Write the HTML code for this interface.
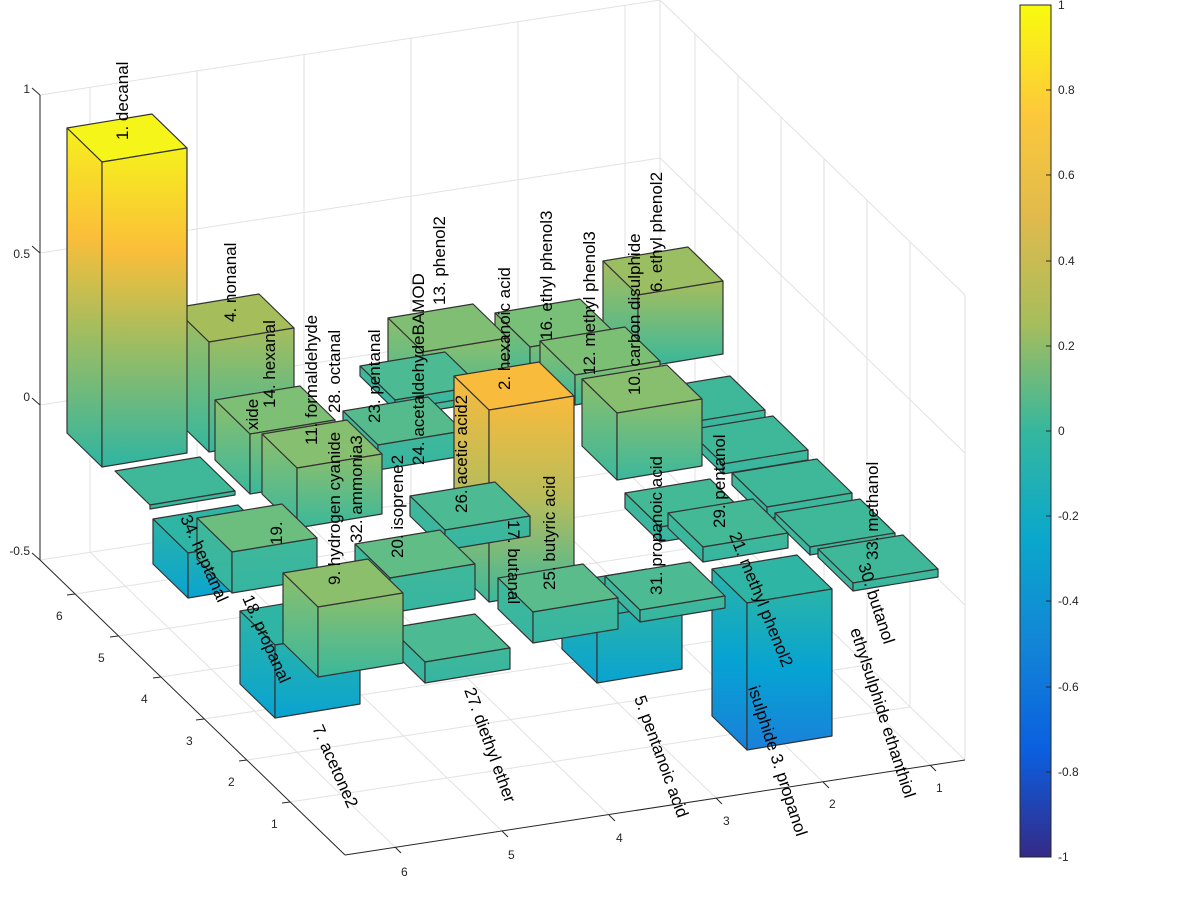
<!DOCTYPE html>
<html><head><meta charset="utf-8"><style>
html,body{margin:0;padding:0;background:#fff;}
svg{display:block;font-family:"Liberation Sans",sans-serif;}
.g{stroke:#e2e2e2;stroke-width:1;fill:none}
.ax{stroke:#262626;stroke-width:1;fill:none}
.b polygon{stroke:#333;stroke-width:1.2;stroke-linejoin:round}
.t{font-size:12px;fill:#262626}
.l{font-size:17px;fill:#000}
</style></head><body>
<svg width="1200" height="910" viewBox="0 0 1200 910">
<defs>
<linearGradient id="g1" x1="0" y1="0" x2="0" y2="1"><stop offset="0" stop-color="#f6f01d"/><stop offset="0.32" stop-color="#fbbe3a"/><stop offset="0.6" stop-color="#a2bd5f"/><stop offset="1" stop-color="#2fb5a2"/></linearGradient>
<linearGradient id="g2" x1="0" y1="0" x2="0" y2="1"><stop offset="0" stop-color="#f9bb3c"/><stop offset="0.5" stop-color="#b8bc5a"/><stop offset="1" stop-color="#3cb89b"/></linearGradient>
<linearGradient id="g4" x1="0" y1="0" x2="0" y2="1"><stop offset="0" stop-color="#a6bd5c"/><stop offset="1" stop-color="#35b89e"/></linearGradient>
<linearGradient id="gc" x1="0" y1="0" x2="0" y2="1"><stop offset="0" stop-color="#8cbf6c"/><stop offset="1" stop-color="#3ab89c"/></linearGradient>
<linearGradient id="gf" x1="0" y1="0" x2="0" y2="1"><stop offset="0" stop-color="#40b89a"/><stop offset="1" stop-color="#35b6a1"/></linearGradient>
<linearGradient id="gn" x1="0" y1="0" x2="0" y2="1"><stop offset="0" stop-color="#2cb4a6"/><stop offset="1" stop-color="#08a3d2"/></linearGradient>
<linearGradient id="g3" x1="0" y1="0" x2="0" y2="1"><stop offset="0" stop-color="#2ab4a8"/><stop offset="0.5" stop-color="#06a3d3"/><stop offset="1" stop-color="#1a80da"/></linearGradient>
<linearGradient id="cb" x1="0" y1="0" x2="0" y2="1">
<stop offset="0" stop-color="#f9fb0e"/><stop offset="0.125" stop-color="#fdc93a"/><stop offset="0.25" stop-color="#e0ba4c"/><stop offset="0.375" stop-color="#a6bd5c"/><stop offset="0.5" stop-color="#35b79e"/><stop offset="0.625" stop-color="#0aa8cc"/><stop offset="0.75" stop-color="#1285d6"/><stop offset="0.875" stop-color="#0b5fe0"/><stop offset="1" stop-color="#352a87"/>
</linearGradient>
</defs>

<!-- grid: back wall -->
<g class="g">
<line x1="40" y1="95" x2="660" y2="0"/><line x1="40" y1="253" x2="660" y2="158"/><line x1="40" y1="405" x2="660" y2="310"/><line x1="40" y1="560" x2="660" y2="465"/>
<line x1="660" y1="0" x2="965" y2="295"/><line x1="660" y1="158" x2="965" y2="453"/><line x1="660" y1="310" x2="965" y2="605"/>
<line x1="660" y1="0" x2="660" y2="465"/><line x1="965" y1="295" x2="965" y2="760"/>
<line x1="90" y1="552" x2="90" y2="87"/><line x1="197" y1="536" x2="197" y2="71"/><line x1="304" y1="520" x2="304" y2="55"/><line x1="411" y1="503" x2="411" y2="38"/><line x1="518" y1="487" x2="518" y2="22"/><line x1="625" y1="470" x2="625" y2="5"/>
<line x1="90" y1="552" x2="395" y2="847"/><line x1="197" y1="536" x2="502" y2="831"/><line x1="304" y1="520" x2="609" y2="815"/><line x1="411" y1="503" x2="716" y2="798"/><line x1="518" y1="487" x2="823" y2="782"/><line x1="625" y1="470" x2="930" y2="765"/>
<line x1="695" y1="499" x2="695" y2="34"/><line x1="738" y1="541" x2="738" y2="76"/><line x1="781" y1="582" x2="781" y2="117"/><line x1="824" y1="624" x2="824" y2="159"/><line x1="867" y1="665" x2="867" y2="200"/><line x1="910" y1="707" x2="910" y2="242"/>
<line x1="75" y1="594" x2="695" y2="499"/><line x1="118" y1="636" x2="738" y2="541"/><line x1="161" y1="677" x2="781" y2="582"/><line x1="204" y1="719" x2="824" y2="624"/><line x1="247" y1="760" x2="867" y2="665"/><line x1="290" y1="802" x2="910" y2="707"/>
<line x1="660" y1="465" x2="965" y2="760"/>
</g>
<g class="ax">
<line x1="40" y1="95" x2="40" y2="560"/>
<line x1="40" y1="560" x2="345" y2="855"/>
<line x1="345" y1="855" x2="965" y2="760"/>
<line x1="40" y1="95" x2="32" y2="88"/><line x1="40" y1="253" x2="32" y2="246"/><line x1="40" y1="405" x2="32" y2="398"/><line x1="40" y1="560" x2="32" y2="553"/>
<line x1="395" y1="847" x2="401" y2="853"/><line x1="502" y1="831" x2="508" y2="837"/><line x1="609" y1="815" x2="615" y2="821"/><line x1="716" y1="798" x2="722" y2="804"/><line x1="823" y1="782" x2="829" y2="788"/><line x1="930" y1="765" x2="936" y2="771"/>
<line x1="75" y1="594" x2="67" y2="595"/><line x1="118" y1="636" x2="110" y2="637"/><line x1="161" y1="677" x2="153" y2="678"/><line x1="204" y1="719" x2="196" y2="720"/><line x1="247" y1="760" x2="239" y2="761"/><line x1="290" y1="802" x2="282" y2="803"/>
</g>
<g class="t">
<text x="30" y="93" text-anchor="end">1</text><text x="30" y="258" text-anchor="end">0.5</text><text x="30" y="401" text-anchor="end">0</text><text x="30" y="555" text-anchor="end">-0.5</text>
<text x="401" y="876">6</text><text x="508" y="859">5</text><text x="616" y="842">4</text><text x="723" y="825">3</text><text x="829" y="808">2</text><text x="936" y="792">1</text>
<text x="56" y="620">6</text><text x="98" y="662">5</text><text x="141" y="703">4</text><text x="186" y="745">3</text><text x="228" y="786">2</text><text x="271" y="828">1</text>
</g>

<!-- bars -->
<g class="b">
<polygon fill="#3fb899" points="645,390 730,376 765,410 680,424"/><polygon fill="url(#gf)" points="645,390 680,424 680,432 645,398"/><polygon fill="url(#gf)" points="680,424 765,410 765,418 680,432"/>
<polygon fill="#9cbe63" points="603,261 688,247 723,281 638,295"/><polygon fill="url(#g4)" points="603,261 638,295 638,368 603,334"/><polygon fill="url(#g4)" points="638,295 723,281 723,354 638,368"/>
<polygon fill="#78bf77" points="495,313 580,299 615,333 530,347"/><polygon fill="url(#gc)" points="495,313 530,347 530,387 495,353"/><polygon fill="url(#gc)" points="530,347 615,333 615,373 530,387"/>
<polygon fill="#80bf73" points="388,318 473,304 508,338 423,352"/><polygon fill="url(#gc)" points="388,318 423,352 423,412 388,378"/><polygon fill="url(#gc)" points="423,352 508,338 508,398 423,412"/>
<polygon fill="#a6bd5c" points="174,308 259,294 294,328 209,342"/><polygon fill="url(#g4)" points="174,308 209,342 209,452 174,418"/><polygon fill="url(#g4)" points="209,342 294,328 294,438 209,452"/>
<polygon fill="#f6f51a" points="67,128 152,114 187,148 102,162"/><polygon fill="url(#g1)" points="67,128 102,162 102,467 67,433"/><polygon fill="url(#g1)" points="102,162 187,148 187,453 102,467"/>
<polygon fill="#3fb899" points="688,430 773,416 808,450 723,464"/><polygon fill="url(#gf)" points="688,430 723,464 723,474 688,440"/><polygon fill="url(#gf)" points="723,464 808,450 808,460 723,474"/>
<polygon fill="#7bbf75" points="540,341 625,327 660,361 575,375"/><polygon fill="url(#gc)" points="540,341 575,375 575,405 540,371"/><polygon fill="url(#gc)" points="575,375 660,361 660,391 575,405"/>
<polygon fill="#88bf6e" points="582,379 667,365 702,399 617,413"/><polygon fill="url(#gc)" points="582,379 617,413 617,480 582,446"/><polygon fill="url(#gc)" points="617,413 702,399 702,466 617,480"/>
<polygon fill="#4cba92" points="360,366 445,352 480,386 395,400"/><polygon fill="url(#gf)" points="360,366 395,400 395,410 360,376"/><polygon fill="url(#gf)" points="395,400 480,386 480,396 395,410"/>
<polygon fill="#7cbf75" points="215,400 300,386 335,420 250,434"/><polygon fill="url(#gc)" points="215,400 250,434 250,494 215,460"/><polygon fill="url(#gc)" points="250,434 335,420 335,480 250,494"/>
<polygon fill="#3fb899" points="115,471 200,457 235,491 150,505"/><polygon fill="url(#gf)" points="150,505 235,491 235,495 150,509"/>
<polygon fill="#3fb899" points="732,473 817,459 852,493 767,507"/><polygon fill="url(#gf)" points="732,473 767,507 767,519 732,485"/><polygon fill="url(#gf)" points="767,507 852,493 852,505 767,519"/>
<polygon fill="#3fb899" points="775,513 860,499 895,533 810,547"/><polygon fill="url(#gf)" points="775,513 810,547 810,555 775,521"/><polygon fill="url(#gf)" points="810,547 895,533 895,541 810,555"/>
<polygon fill="#3fb899" points="818,549 903,535 938,569 853,583"/><polygon fill="url(#gf)" points="818,549 853,583 853,591 818,557"/><polygon fill="url(#gf)" points="853,583 938,569 938,577 853,591"/>
<polygon fill="#44b996" points="625,493 710,479 745,513 660,527"/><polygon fill="url(#gf)" points="625,493 660,527 660,542 625,508"/><polygon fill="url(#gf)" points="660,527 745,513 745,528 660,542"/>
<polygon fill="#44b996" points="668,513 753,499 788,533 703,547"/><polygon fill="url(#gf)" points="668,513 703,547 703,562 668,528"/><polygon fill="url(#gf)" points="703,547 788,533 788,548 703,562"/>
<polygon fill="#55bb8d" points="343,411 428,397 463,431 378,445"/><polygon fill="url(#gf)" points="343,411 378,445 378,470 343,436"/><polygon fill="url(#gf)" points="378,445 463,431 463,456 378,470"/>
<polygon fill="#f9bb3c" points="454,376 539,362 574,396 489,410"/><polygon fill="url(#g2)" points="454,376 489,410 489,602 454,568"/><polygon fill="url(#g2)" points="489,410 574,396 574,588 489,602"/>
<polygon fill="#86bf6f" points="262,434 347,420 382,454 297,468"/><polygon fill="url(#gc)" points="262,434 297,468 297,528 262,494"/><polygon fill="url(#gc)" points="297,468 382,454 382,514 297,528"/>
<polygon fill="#4cba92" points="410,496 495,482 530,516 445,530"/><polygon fill="url(#gf)" points="410,496 445,530 445,550 410,516"/><polygon fill="url(#gf)" points="445,530 530,516 530,536 445,550"/>
<polygon fill="#2fb5a4" points="712,569 797,555 832,589 747,603"/><polygon fill="url(#g3)" points="712,569 747,603 747,750 712,716"/><polygon fill="url(#g3)" points="747,603 832,589 832,736 747,750"/>
<polygon fill="#2fb5a4" points="562,583 647,569 682,603 597,617"/><polygon fill="url(#gn)" points="562,583 597,617 597,683 562,649"/><polygon fill="url(#gn)" points="597,617 682,603 682,669 597,683"/>
<polygon fill="#4cba92" points="605,576 690,562 725,596 640,610"/><polygon fill="url(#gf)" points="605,576 640,610 640,622 605,588"/><polygon fill="url(#gf)" points="640,610 725,596 725,608 640,622"/>
<polygon fill="#5abc8a" points="498,578 583,564 618,598 533,612"/><polygon fill="url(#gf)" points="498,578 533,612 533,643 498,609"/><polygon fill="url(#gf)" points="533,612 618,598 618,629 533,643"/>
<polygon fill="#2fb5a4" points="153,519 238,505 273,539 188,553"/><polygon fill="url(#gn)" points="153,519 188,553 188,598 153,564"/><polygon fill="url(#gn)" points="188,553 273,539 273,584 188,598"/>
<polygon fill="#6cbe7f" points="197,518 282,504 317,538 232,552"/><polygon fill="url(#gf)" points="197,518 232,552 232,593 197,559"/><polygon fill="url(#gf)" points="232,552 317,538 317,579 232,593"/>
<polygon fill="#60bd86" points="355,544 440,530 475,564 390,578"/><polygon fill="url(#gf)" points="355,544 390,578 390,613 355,579"/><polygon fill="url(#gf)" points="390,578 475,564 475,599 390,613"/>
<polygon fill="#4cba92" points="390,628 475,614 510,648 425,662"/><polygon fill="url(#gf)" points="390,628 425,662 425,683 390,649"/><polygon fill="url(#gf)" points="425,662 510,648 510,669 425,683"/>
<polygon fill="#2fb5a4" points="240,611 325,597 360,631 275,645"/><polygon fill="url(#gn)" points="240,611 275,645 275,718 240,684"/><polygon fill="url(#gn)" points="275,645 360,631 360,704 275,718"/>
<polygon fill="#8cbf6c" points="283,573 368,559 403,593 318,607"/><polygon fill="url(#gc)" points="283,573 318,607 318,677 283,643"/><polygon fill="url(#gc)" points="318,607 403,593 403,663 318,677"/>
</g>

<!-- bar labels (vertical) -->
<g class="l">
<text transform="translate(128,140) rotate(-90)">1. decanal</text>
<text transform="translate(236,322) rotate(-90)">4. nonanal</text>
<text transform="translate(275,408) rotate(-90)">14. hexanal</text>
<text transform="translate(258,430) rotate(-90)">xide</text>
<text transform="translate(282,545) rotate(-90)">19.</text>
<text transform="translate(317,445) rotate(-90)">11. formaldehyde</text>
<text transform="translate(340,413) rotate(-90)">28. octanal</text>
<text transform="translate(340,585) rotate(-90)">9. hydrogen cyanide</text>
<text transform="translate(362,543) rotate(-90)">32. ammonia3</text>
<text transform="translate(380,423) rotate(-90)">23. pentanal</text>
<text transform="translate(403,558) rotate(-90)">20. isoprene2</text>
<text transform="translate(424,465) rotate(-90)">24. acetaldehydeBAMOD</text>
<text transform="translate(445,305) rotate(-90)">13. phenol2</text>
<text transform="translate(467,513) rotate(-90)">26. acetic acid2</text>
<text transform="translate(510,390) rotate(-90)">2. hexanoic acid</text>
<text transform="translate(555,590) rotate(-90)">25. butyric acid</text>
<text transform="translate(552,340) rotate(-90)">16. ethyl phenol3</text>
<text transform="translate(595,375) rotate(-90)">12. methyl phenol3</text>
<text transform="translate(640,395) rotate(-90)">10. carbon disulphide</text>
<text transform="translate(662,292) rotate(-90)">6. ethyl phenol2</text>
<text transform="translate(662,595) rotate(-90)">31. propanoic acid</text>
<text transform="translate(725,528) rotate(-90)">29. pentanol</text>
<text transform="translate(878,560) rotate(-90)">33. methanol</text>
<text transform="translate(508,520) rotate(90)">17. butanal</text>
<text transform="translate(180,518) rotate(66)">34. heptanal</text>
<text transform="translate(242,598) rotate(66)">18. propanal</text>
<text transform="translate(312,728) rotate(66)">7. acetone2</text>
<text transform="translate(464,690) rotate(70)">27. diethyl ether</text>
<text transform="translate(634,698) rotate(70)">5. pentanoic acid</text>
<text transform="translate(729,535) rotate(68)">21. methyl phenol2</text>
<text transform="translate(748,688) rotate(72)">isulphide  3. propanol</text>
<text transform="translate(850,630) rotate(72)">ethylsulphide ethanthiol</text>
<text transform="translate(858,565) rotate(72)">30. butanol</text>
</g>

<!-- colorbar -->
<rect x="1020" y="5" width="31" height="852" fill="url(#cb)" stroke="#262626" stroke-width="1"/>
<g class="ax">
<line x1="1051" y1="90" x2="1046" y2="90"/><line x1="1051" y1="175" x2="1046" y2="175"/><line x1="1051" y1="261" x2="1046" y2="261"/><line x1="1051" y1="346" x2="1046" y2="346"/><line x1="1051" y1="431" x2="1046" y2="431"/><line x1="1051" y1="516" x2="1046" y2="516"/><line x1="1051" y1="601" x2="1046" y2="601"/><line x1="1051" y1="687" x2="1046" y2="687"/><line x1="1051" y1="772" x2="1046" y2="772"/>
</g>
<g class="t">
<text x="1058" y="9">1</text><text x="1058" y="94">0.8</text><text x="1058" y="179">0.6</text><text x="1058" y="265">0.4</text><text x="1058" y="350">0.2</text><text x="1058" y="435">0</text><text x="1058" y="520">-0.2</text><text x="1058" y="605">-0.4</text><text x="1058" y="691">-0.6</text><text x="1058" y="776">-0.8</text><text x="1058" y="861">-1</text>
</g>
</svg>
</body></html>
